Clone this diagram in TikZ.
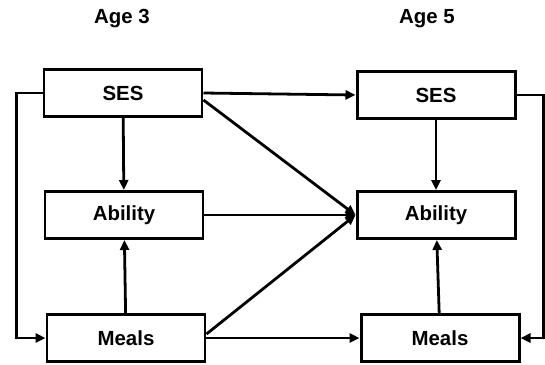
\documentclass[tikz,border=0pt]{standalone}
\usepackage{fontspec}
\setmainfont{Liberation Sans}
\usetikzlibrary{arrows.meta}
\tikzset{
  var/.style={draw, line width=3pt, minimum width=158bp, minimum height=47bp,
    inner sep=0pt, font=\fontsize{20.5}{24}\selectfont\bfseries},
  path/.style={line width=2.8pt, -{Triangle[length=10bp,width=9bp]}},
  title/.style={font=\fontsize{20.5}{24}\selectfont\bfseries}
}
\begin{document}
\begin{tikzpicture}[x=1bp,y=-1bp]
				\useasboundingbox (0,0) rectangle (545,364);
				\node[title] (age3) at (122,19) {Age 3};
				\node[title] (age5) at (427,19) {Age 5};
				\node[var] (ses3) at (123,93) {SES};
				\node[var] (abil3) at (124,215) {Ability};
				\node[var] (meals3) at (126,338) {Meals};
				\node[var] (ses5) at (436,95) {SES};
				\node[var] (abil5) at (436,215) {Ability};
				\node[var] (meals5) at (440,338) {Meals};
				\draw[path] (ses3) -- (abil3);
				\draw[path] (meals3) -- (abil3);
				\draw[path] (ses5) -- (abil5);
				\draw[path] (meals5) -- (abil5);
				\draw[path] (ses3.east) -- (ses5.west);
				\draw[path] (ses3.south east) ++(0,-18) -- (abil5.west);
				\draw[path] (abil3.east) -- (abil5.west);
				\draw[path] (meals3.east) ++(0,-4) -- (abil5.west);
				\draw[path] (meals3.east) -- (meals5.west);
				\draw[path] (ses3.west) -- ++(-26,0) |- (meals3.west);
				\draw[path] (ses5.east) -- ++(27,0) |- (meals5.east);
\end{tikzpicture}
\end{document}
